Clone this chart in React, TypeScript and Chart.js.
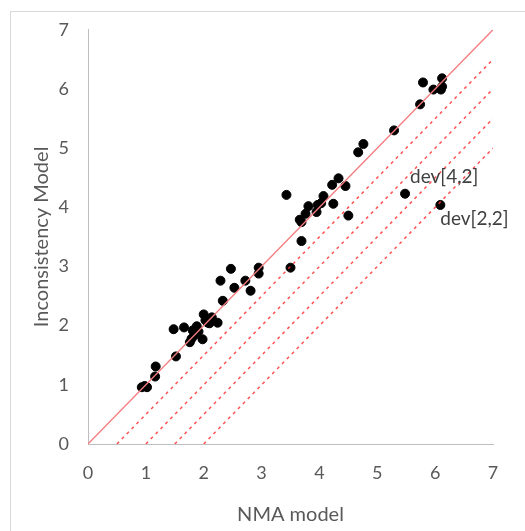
import React, { useEffect, useRef } from "react";
import { Chart, registerables } from "chart.js";

Chart.register(...registerables);

const xValues = [
  0.93, 0.98, 1.02, 1.16, 1.17, 1.52, 1.48, 1.66, 1.76, 1.79, 1.81, 1.88, 1.98, 2.0, 2.07, 2.14, 2.24,
  1.91, 2.03, 2.1, 1.84, 2.29, 2.33, 2.47, 2.53, 2.72, 2.81, 2.95, 2.95, 3.5, 3.43, 3.69, 3.66, 3.69,
  3.76, 3.81, 3.95, 3.97, 4.03, 4.07, 4.24, 4.22, 4.33, 4.45, 4.5, 4.67, 4.76, 5.29, 5.74, 5.79, 5.97,
  6.1, 6.12, 6.12, 5.48, 6.09,
];
const yValues = [
  0.96, 0.98, 0.96, 1.14, 1.31, 1.48, 1.94, 1.97, 1.72, 1.78, 1.92, 1.99, 1.77, 2.19, 2.05, 2.14, 2.05,
  1.9, 2.09, 2.04, 1.84, 2.76, 2.42, 2.96, 2.64, 2.76, 2.59, 2.98, 2.88, 2.98, 4.21, 3.43, 3.79, 3.75,
  3.89, 4.02, 3.92, 4.04, 4.07, 4.19, 4.06, 4.38, 4.49, 4.36, 3.86, 4.93, 5.07, 5.3, 5.74, 6.11, 5.99,
  5.99, 6.04, 6.18, 4.23, 4.04,
];
const annotationIndex = [54, 55];
const annotationText = ["dev[4,2]", "dev[2,2]"];
const dashOffsets = [0.5, 1, 1.5, 2];
const axisMin = 0;
const axisMax = 7;
const xTitle = "NMA model";
const yTitle = "Inconsistency Model";

const FONT = "Lato, 'Open Sans', sans-serif";

export default function App() {
  const ref = useRef<HTMLCanvasElement | null>(null);
  useEffect(() => {
    if (!ref.current) return;
    const points = xValues.map((x, i) => ({ x, y: yValues[i] }));
    const lineDatasets: any[] = [
      {
        type: "line",
        data: [
          { x: axisMin, y: axisMin },
          { x: axisMax, y: axisMax },
        ],
        borderColor: "#f47c7f",
        borderWidth: 1.3,
        pointRadius: 0,
        fill: false,
      },
      ...dashOffsets.map((d) => ({
        type: "line",
        data: [
          { x: d, y: 0 },
          { x: axisMax, y: axisMax - d },
        ],
        borderColor: "rgba(255,50,50,0.85)",
        borderWidth: 1.5,
        borderDash: [3, 4],
        pointRadius: 0,
        fill: false,
      })),
    ];
    const framePlugin = {
      id: "frame",
      beforeDraw(chart: any) {
        const ctx = chart.ctx;
        ctx.save();
        ctx.strokeStyle = "#d9d9d9";
        ctx.lineWidth = 1;
        ctx.strokeRect(10.5, 11.5, 700, 700);
        ctx.restore();
      },
    };
    const labelPlugin = {
      id: "devLabels",
      afterDatasetsDraw(chart: any) {
        const ctx = chart.ctx;
        const xs = chart.scales.x;
        const ys = chart.scales.y;
        ctx.save();
        ctx.font = `19px ${FONT}`;
        ctx.fillStyle = "#404040";
        ctx.textBaseline = "middle";
        ctx.textAlign = "left";
        annotationIndex.forEach((idx, k) => {
          const px = xs.getPixelForValue(xValues[idx]);
          const py = ys.getPixelForValue(yValues[idx]);
          if (k === 0) ctx.fillText(annotationText[k], px + 5, py - 17);
          else ctx.fillText(annotationText[k], px, py + 14);
        });
        ctx.restore();
      },
    };
    const chart = new Chart(ref.current, {
      type: "scatter",
      data: {
        datasets: [
          ...lineDatasets,
          {
            type: "scatter",
            data: points,
            backgroundColor: "#000000",
            borderColor: "#000000",
            pointRadius: 4.5,
            pointHoverRadius: 4.5,
          },
        ],
      },
      options: {
        animation: false,
        responsive: false,
        maintainAspectRatio: false,
        layout: { padding: { left: 0, top: 28, right: 32, bottom: 0 } },
        plugins: { legend: { display: false }, tooltip: { enabled: false } },
        scales: {
          x: {
            type: "linear",
            min: axisMin,
            max: axisMax,
            grid: { display: false, drawTicks: false },
            border: { display: true, color: "#bfbfbf", width: 1 },
            ticks: { stepSize: 1, padding: 18, color: "#595959", font: { family: FONT, size: 18 } },
            title: {
              display: true,
              text: xTitle,
              color: "#595959",
              font: { family: FONT, size: 20 },
              padding: { top: 0, bottom: 4 },
            },
            afterFit(scale: any) {
              scale.height = 87;
            },
          },
          y: {
            type: "linear",
            min: axisMin,
            max: axisMax,
            grid: { display: false, drawTicks: false },
            border: { display: true, color: "#bfbfbf", width: 1 },
            ticks: { stepSize: 1, padding: 19, color: "#595959", font: { family: FONT, size: 18 } },
            title: {
              display: true,
              text: yTitle,
              color: "#595959",
              font: { family: FONT, size: 20 },
              padding: { top: 30, bottom: 0 },
            },
            afterFit(scale: any) {
              scale.width = 88;
            },
          },
        },
      },
      plugins: [framePlugin, labelPlugin],
    } as any);
    return () => chart.destroy();
  }, []);
  return (
    <div style={{ position: "fixed", left: 0, top: 0, width: 525, height: 531, background: "#fff" }}>
      <canvas ref={ref} width={525} height={531} style={{ width: 525, height: 531, display: "block" }} />
    </div>
  );
}
